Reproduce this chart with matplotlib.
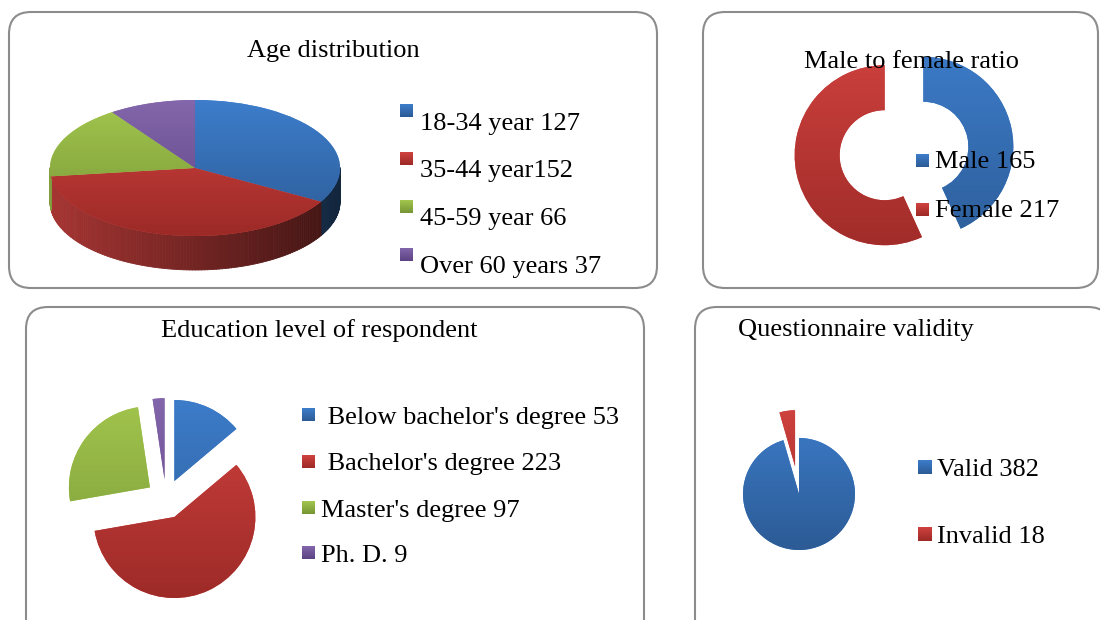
import numpy as np
import matplotlib
matplotlib.use("Agg")
import matplotlib.pyplot as plt
from matplotlib.patches import FancyBboxPatch, Rectangle
from matplotlib.collections import PolyCollection
from matplotlib.colors import to_rgb

plt.rcParams['font.family'] = ['Liberation Serif', 'DejaVu Serif']

age_labels = ["18-34 year 127", "35-44 year152", "45-59 year 66", "Over 60 years 37"]
age_counts = [127, 152, 66, 37]
sex_labels = ["Male 165", "Female 217"]
sex_counts = [165, 217]
edu_labels = [" Below bachelor's degree 53", " Bachelor's degree 223", "Master's degree 97", "Ph. D. 9"]
edu_counts = [53, 223, 97, 9]
valid_labels = ["Valid 382", "Invalid 18"]
valid_counts = [382, 18]

# light / dark end of the office style gradient
blue = ("#3d7dcb", "#2c5b95")
red = ("#d0423f", "#9c2a27")
green = ("#a3c64e", "#769535")
purple = ("#8366ab", "#5c4283")

W, H = 1100, 620
fig = plt.figure(figsize=(11, 6.2), dpi=100)


def px_axes(x0, y0, x1, y1, z=1):
    ax = fig.add_axes([x0 / W, 1 - y1 / H, (x1 - x0) / W, (y1 - y0) / H], zorder=z)
    ax.set_axis_off()
    ax.patch.set_alpha(0)
    return ax


def gradient(ax, patch, cols, ext):
    c0, c1 = np.array(to_rgb(cols[0])), np.array(to_rgb(cols[1]))
    t = np.linspace(0, 1, 256)[:, None, None]
    img = c0 * (1 - t) + c1 * t
    im = ax.imshow(img, extent=ext, aspect='auto', interpolation='bilinear',
                   zorder=patch.get_zorder() + 0.1)
    im.set_clip_path(patch)


bg = px_axes(0, 0, W, H, z=0)
bg.set_xlim(0, W)
bg.set_ylim(H, 0)
fg = px_axes(0, 0, W, H, z=10)
fg.set_xlim(0, W)
fg.set_ylim(H, 0)

for x0, y0, x1, y1 in [(9, 12, 657, 288), (703, 12, 1098, 288),
                       (26, 307, 644, 645), (695, 307, 1110, 645)]:
    bg.add_patch(FancyBboxPatch((x0, y0), x1 - x0, y1 - y0,
                                boxstyle="round,pad=0,rounding_size=22",
                                fc="white", ec="#8c8c8c", lw=1.5))

# ---- Age distribution (3-D pie) ----
age_cols = [blue, red, green, purple]
cx, cy, rx, ry, depth = 195, 168, 145, 68, 34
ax1 = px_axes(40, 90, 350, 280, z=2)
wedges, _ = ax1.pie(age_counts, colors=[c[0] for c in age_cols], startangle=90,
                    counterclock=False, wedgeprops=dict(linewidth=0))
for w in wedges:
    w.set_zorder(3)
ax1.set_aspect('auto')
d = depth / ry
polys, fcs = [], []
for w, c in zip(wedges, age_cols):
    ts = np.linspace(w.theta1, w.theta2, 120)
    base = np.array(to_rgb(c[0]))
    for a, b in zip(ts[:-1], ts[1:]):
        m = np.radians((a + b) / 2)
        if np.sin(m) >= 0:
            continue
        a, b = np.radians(a), np.radians(b)
        polys.append([(np.cos(a), np.sin(a)), (np.cos(b), np.sin(b)),
                      (np.cos(b), np.sin(b) - d), (np.cos(a), np.sin(a) - d)])
        f = 0.8 - 0.25 * (np.cos(m) + 1)
        fcs.append(base * f)
side = PolyCollection(polys, facecolors=fcs, edgecolors=fcs, linewidths=0.6, zorder=2)
ax1.add_collection(side)
for w, c in zip(wedges, age_cols):
    gradient(ax1, w, c, (-1.1, 1.1, -1.0, 1.0))
ax1.set_xlim((40 - cx) / rx, (350 - cx) / rx)
ax1.set_ylim((cy - 280) / ry, (cy - 90) / ry)

# ---- Male to female ratio (exploded doughnut) ----
r2 = 90
ax2 = px_axes(904 - 130, 151 - 130, 904 + 130, 151 + 130, z=2)
wedges, _ = ax2.pie(sex_counts, colors=[blue[0], red[0]], startangle=90,
                    counterclock=False, explode=[0.22, 0.22],
                    wedgeprops=dict(width=0.5, linewidth=0))
for w, c in zip(wedges, [blue, red]):
    gradient(ax2, w, c, (-1.5, 1.5, -1.3, 1.3))
ax2.set_aspect('auto')
ax2.set_xlim(-130 / r2, 130 / r2)
ax2.set_ylim(-130 / r2, 130 / r2)

# ---- Education level (exploded pie) ----
r3 = 81
ax3 = px_axes(166 - 125, 499 - 125, 166 + 125, 499 + 125, z=2)
edu_cols = [blue, red, green, purple]
wedges, _ = ax3.pie(edu_counts, colors=[c[0] for c in edu_cols], startangle=90,
                    counterclock=False, explode=[0.245] * 4,
                    wedgeprops=dict(linewidth=0))
for w, c in zip(wedges, edu_cols):
    gradient(ax3, w, c, (-1.5, 1.5, -1.3, 1.3))
ax3.set_aspect('auto')
ax3.set_xlim(-125 / r3, 125 / r3)
ax3.set_ylim(-125 / r3, 125 / r3)

# ---- Questionnaire validity ----
r4 = 56
ax4 = px_axes(799 - 90, 494 - 90, 799 + 90, 494 + 90, z=2)
wedges, _ = ax4.pie(valid_counts, colors=[blue[0], red[0]], startangle=90,
                    counterclock=False, explode=[0, 0.5],
                    wedgeprops=dict(linewidth=0))
for w, c in zip(wedges, [blue, red]):
    gradient(ax4, w, c, (-1.2, 1.2, -1.0, 1.6))
ax4.set_aspect('auto')
ax4.set_xlim(-90 / r4, 90 / r4)
ax4.set_ylim(-90 / r4, 90 / r4)

# ---- titles ----
fs = 19
fg.text(333, 57, "Age distribution", ha='center', va='baseline', fontsize=fs)
fg.text(912, 68, "Male to female ratio", ha='center', va='baseline', fontsize=fs)
fg.text(319, 337, "Education level of respondent", ha='center', va='baseline', fontsize=fs)
fg.text(738, 336, "Questionnaire validity", ha='left', va='baseline', fontsize=fs)


# ---- legends ----
def legend(xs, xt, baselines, sq_tops, labels, cols, sq=13):
    for yb, yt, lab, c in zip(baselines, sq_tops, labels, cols):
        r = Rectangle((xs, yt), sq, sq, lw=0)
        fg.add_patch(r)
        gradient(fg, r, c, (xs, xs + sq, yt + sq, yt))
        fg.text(xt, yb, lab, ha='left', va='baseline', fontsize=fs)


legend(400, 420, [130, 177, 225, 273], [104, 152, 200, 248], age_labels, age_cols)
legend(916, 935, [168, 217], [154, 203], sex_labels, [blue, red])
legend(302, 321, [424, 470, 517, 562], [408, 455, 501, 546], edu_labels, edu_cols)
legend(918, 937, [476, 543], [460, 527], valid_labels, [blue, red], sq=14)

fg.set_xlim(0, W)
fg.set_ylim(H, 0)

fig.savefig("out.png", dpi=100)
